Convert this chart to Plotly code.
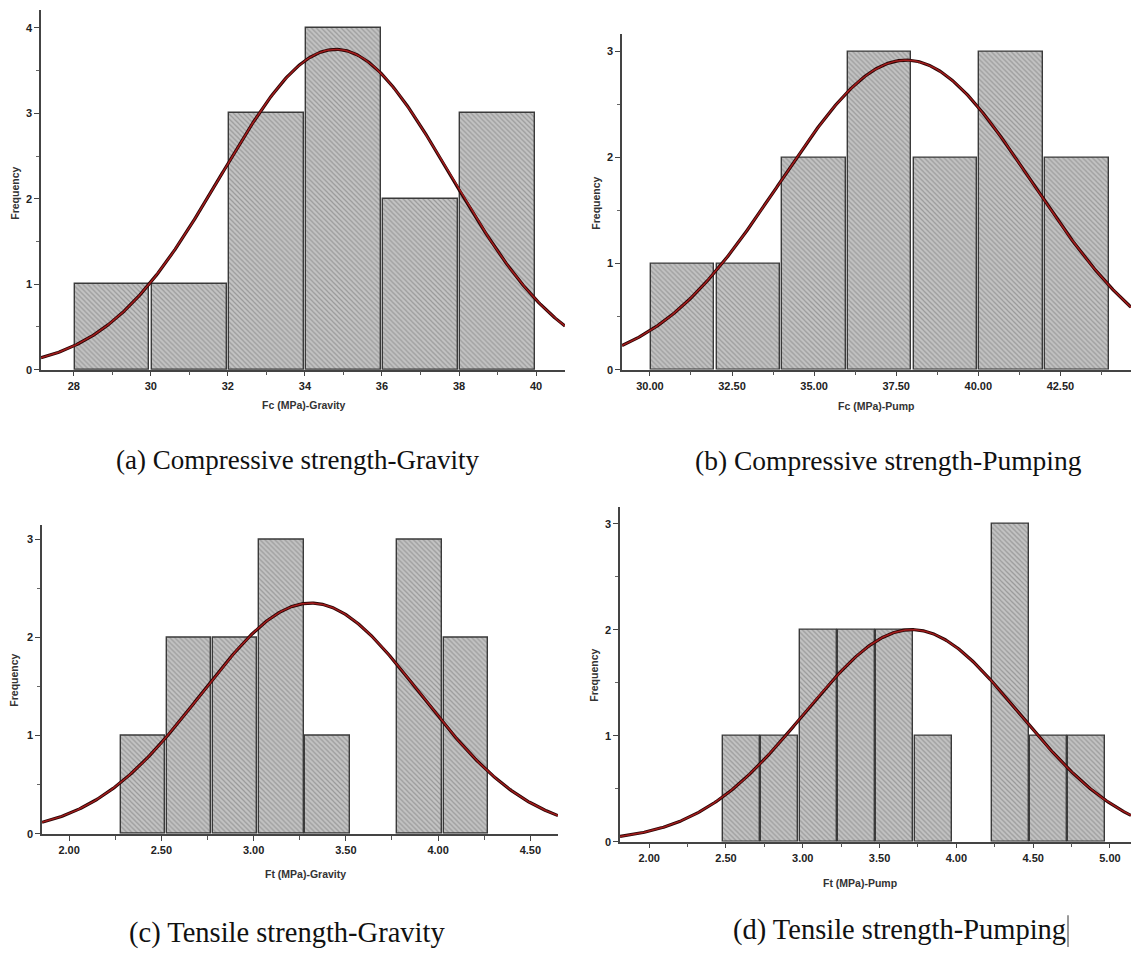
import numpy as np
import plotly.graph_objects as go

# ---- Histogram counts and fitted normal parameters ----
# (a) Compressive strength, gravity placement
fc_gravity_bin_start = 28.0
fc_gravity_bin_width = 2.0
fc_gravity_counts = [1, 1, 3, 4, 2, 3]
fc_gravity_mean = 34.8
fc_gravity_sd = 2.98

# (b) Compressive strength, pumped
fc_pump_bin_start = 30.0
fc_pump_bin_width = 2.0
fc_pump_counts = [1, 1, 2, 3, 2, 3, 2]
fc_pump_mean = 37.8
fc_pump_sd = 3.83

# (c) Tensile strength, gravity placement
ft_gravity_bin_start = 2.275
ft_gravity_bin_width = 0.25
ft_gravity_counts = [1, 2, 2, 3, 1, 0, 3, 2]
ft_gravity_mean = 3.31
ft_gravity_sd = 0.594

# (d) Tensile strength, pumped
ft_pump_bin_start = 2.475
ft_pump_bin_width = 0.25
ft_pump_counts = [1, 1, 2, 2, 2, 1, 0, 3, 1, 1]
ft_pump_mean = 3.71
ft_pump_sd = 0.698

# tick labels
fc_gravity_ticks = [28, 30, 32, 34, 36, 38, 40]
fc_pump_ticks = [30.0, 32.5, 35.0, 37.5, 40.0, 42.5]
ft_gravity_ticks = [2.0, 2.5, 3.0, 3.5, 4.0, 4.5]
ft_pump_ticks = [2.0, 2.5, 3.0, 3.5, 4.0, 4.5, 5.0]

x_titles = ["Fc (MPa)-Gravity", "Fc (MPa)-Pump", "Ft (MPa)-Gravity", "Ft (MPa)-Pump"]
captions = ["(a) Compressive strength-Gravity", "(b) Compressive strength-Pumping",
            "(c) Tensile strength-Gravity", "(d) Tensile strength-Pumping"]

W, H = 1131, 955


def px(x):
    return x / W


def py(y):
    return 1 - y / H


panels = [
    dict(start=fc_gravity_bin_start, width=fc_gravity_bin_width, counts=fc_gravity_counts,
         mean=fc_gravity_mean, sd=fc_gravity_sd, ticks=fc_gravity_ticks, fmt="d", minor=1.0,
         xrange=[27.15, 40.75], yrange=[0, 4.21], ydomain=(372, 10), xdomain=(41, 565),
         ytitle=(15, 195), xtitle=(304, 408), caption=(297, 463), capsize=27),
    dict(start=fc_pump_bin_start, width=fc_pump_bin_width, counts=fc_pump_counts,
         mean=fc_pump_mean, sd=fc_pump_sd, ticks=fc_pump_ticks, fmt=".2f", minor=1.25,
         xrange=[29.15, 44.65], yrange=[0, 3.165], ydomain=(372, 34), xdomain=(622, 1131),
         ytitle=(596, 205), xtitle=(876, 409), caption=(888, 463), capsize=27.5),
    dict(start=ft_gravity_bin_start, width=ft_gravity_bin_width, counts=ft_gravity_counts,
         mean=ft_gravity_mean, sd=ft_gravity_sd, ticks=ft_gravity_ticks, fmt=".2f", minor=0.25,
         xrange=[1.853, 4.65], yrange=[0, 3.15], ydomain=(839, 528), xdomain=(42, 558),
         ytitle=(14, 685), xtitle=(305, 880), caption=(287, 939), capsize=28.5),
    dict(start=ft_pump_bin_start, width=ft_pump_bin_width, counts=ft_pump_counts,
         mean=ft_pump_mean, sd=ft_pump_sd, ticks=ft_pump_ticks, fmt=".2f", minor=0.25,
         xrange=[1.81, 5.137], yrange=[0, 3.16], ydomain=(847, 510), xdomain=(620, 1131),
         ytitle=(594, 680), xtitle=(860, 889), caption=(899, 936), capsize=28.5),
]

fig = go.Figure()
annotations = []
tick_font = dict(family="Liberation Sans Narrow, Liberation Sans, Arial", size=11,
                 color="#222", weight="bold")
small_font = dict(family="Liberation Sans Narrow, Liberation Sans, Arial", size=10.5,
                  color="#333", weight="bold")

for i, p in enumerate(panels):
    n = i + 1
    xa = "x" if n == 1 else f"x{n}"
    ya = "y" if n == 1 else f"y{n}"
    counts = np.array(p["counts"], dtype=float)
    centers = p["start"] + p["width"] * (np.arange(len(counts)) + 0.5)
    filled = counts > 0

    fig.add_trace(go.Bar(
        x=centers[filled], y=counts[filled], width=p["width"] * 0.965, xaxis=xa, yaxis=ya,
        marker=dict(color="#b9b9b9",
                    line=dict(color="#3a3a3a", width=1.4),
                    pattern=dict(shape="\\", size=3.5, solidity=0.35,
                                 fgcolor="#6f6f6f", bgcolor="#c4c4c4")),
        showlegend=False, hoverinfo="skip"))

    # fitted normal curve scaled to the histogram (n * bin width * pdf)
    total = counts.sum()
    xs = np.linspace(p["xrange"][0], p["xrange"][1], 400)
    ys = total * p["width"] / (p["sd"] * np.sqrt(2 * np.pi)) * np.exp(-0.5 * ((xs - p["mean"]) / p["sd"]) ** 2)
    fig.add_trace(go.Scatter(x=xs, y=ys, mode="lines", xaxis=xa, yaxis=ya,
                             line=dict(color="#2a0606", width=3.2),
                             showlegend=False, hoverinfo="skip"))
    fig.add_trace(go.Scatter(x=xs, y=ys, mode="lines", xaxis=xa, yaxis=ya,
                             line=dict(color="#a31c1c", width=1.5),
                             showlegend=False, hoverinfo="skip"))

    ticktext = [format(t, p["fmt"]) if p["fmt"] != "d" else str(int(t)) for t in p["ticks"]]
    fig.update_layout({
        ("xaxis" if n == 1 else f"xaxis{n}"): dict(
            domain=[px(p["xdomain"][0]), px(p["xdomain"][1])], anchor=ya,
            range=p["xrange"], tickvals=p["ticks"], ticktext=ticktext,
            ticks="outside", ticklen=5, tickwidth=1.2, tickcolor="#444",
            showline=True, linecolor="#444", linewidth=1.6,
            showgrid=False, zeroline=False, tickfont=tick_font,
            minor=dict(dtick=p["minor"], tick0=p["ticks"][0], ticks="outside",
                       ticklen=4, tickwidth=1, tickcolor="#555", showgrid=False),
            fixedrange=True),
        ("yaxis" if n == 1 else f"yaxis{n}"): dict(
            domain=[py(p["ydomain"][0]), py(p["ydomain"][1])], anchor=xa,
            range=p["yrange"], dtick=1, tick0=0,
            ticks="outside", ticklen=5, tickwidth=1.2, tickcolor="#444",
            showline=True, linecolor="#444", linewidth=1.6,
            showgrid=False, zeroline=False, tickfont=tick_font,
            minor=dict(dtick=0.5, tick0=0, ticks="outside", ticklen=3,
                       tickwidth=1, tickcolor="#666", showgrid=False),
            fixedrange=True),
    })

    annotations.append(dict(text="Frequency", x=px(p["ytitle"][0]), y=py(p["ytitle"][1]),
                            xref="paper", yref="paper", textangle=-90, showarrow=False,
                            font=small_font, xanchor="center", yanchor="middle"))
    annotations.append(dict(text=x_titles[i], x=px(p["xtitle"][0]), y=py(p["xtitle"][1]),
                            xref="paper", yref="paper", showarrow=False,
                            font=small_font, xanchor="center", yanchor="middle"))
    annotations.append(dict(text=captions[i], x=px(p["caption"][0]), y=py(p["caption"][1]),
                            xref="paper", yref="paper", showarrow=False,
                            font=dict(family="Liberation Serif, Times New Roman, serif",
                                      size=p["capsize"], color="#111"),
                            xanchor="center", yanchor="middle"))

fig.update_layout(
    width=W, height=H,
    margin=dict(l=0, r=0, t=0, b=0),
    paper_bgcolor="white", plot_bgcolor="white",
    annotations=annotations,
    bargap=0,
    shapes=[dict(type="line", xref="paper", yref="paper",
                 x0=px(1068), x1=px(1068), y0=py(921), y1=py(953),
                 line=dict(color="#555", width=1.2))],
)

fig.write_html("out.html")
